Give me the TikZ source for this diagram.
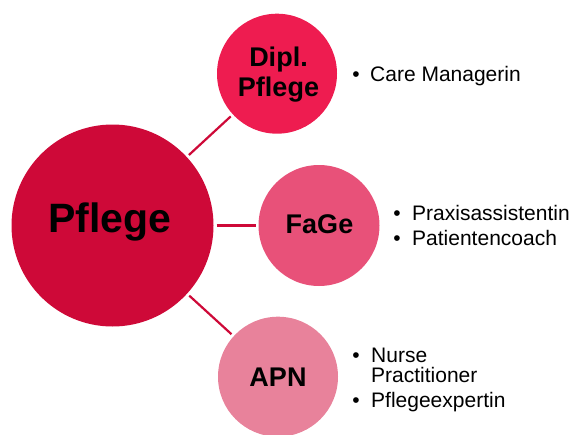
\documentclass[tikz,border=0pt]{standalone}
\usepackage{fontspec}
\setmainfont{Liberation Sans}
\begin{document}
\definecolor{pflegered}{RGB}{206,9,56}
\definecolor{diplred}{RGB}{238,28,80}
\definecolor{fagerose}{RGB}{232,81,121}
\definecolor{apnrose}{RGB}{232,130,155}
\begin{tikzpicture}[x=1pt,y=-1pt,
  bubble/.style={circle,inner sep=0pt,outer sep=3pt,draw=none},
  link/.style={draw=pflegered,line width=2.2pt},
  head/.style={anchor=base,font=\bfseries\fontsize{27}{30}\selectfont,inner sep=0pt},
  item/.style={anchor=base west,font=\fontsize{21}{24}\selectfont,inner sep=0pt},
  dot/.style={anchor=base,font=\fontsize{21}{24}\selectfont,inner sep=0pt}]
\useasboundingbox (0,0) rectangle (573,434);
\clip (0,0) rectangle (573,434);

% circles
\node[bubble,fill=pflegered,minimum size=202pt] (pfl) at (112.5,225.5) {};
\node[bubble,fill=diplred,minimum size=120pt] (dip) at (277,73.7) {};
\node[bubble,fill=fagerose,minimum size=121pt] (fag) at (319,225.5) {};
\node[bubble,fill=apnrose,minimum size=120pt] (apn) at (278,376.7) {};

% connectors
\draw[link] (pfl) -- (dip);
\draw[link] (pfl) -- (fag);
\draw[link] (pfl) -- (apn);

% circle labels
\node[head,font=\bfseries\fontsize{41}{44}\selectfont] (tpfl) at (110,232) {Pflege};
\node[head] (tdip1) at (278.5,66.7) {Dipl.};
\node[head] (tdip2) at (278.5,96.7) {Pflege};
\node[head] (tfag) at (319.5,233.3) {FaGe};
\node[head] (tapn) at (278,386) {APN};

% bullet lists
\node[dot] (b1) at (356,81) {•};
\node[item] (l1) at (370,81) {Care Managerin};

\node[dot] (b2) at (397,220) {•};
\node[item] (l2) at (412,220) {Praxisassistentin};
\node[dot] (b3) at (397,245) {•};
\node[item] (l3) at (412,245) {Patientencoach};

\node[dot] (b4) at (356,362.7) {•};
\node[item] (l4) at (371,362.7) {Nurse};
\node[item] (l5) at (371,382) {Practitioner};
\node[dot] (b5) at (356,407) {•};
\node[item] (l6) at (371,407) {Pflegeexpertin};
\end{tikzpicture}
\end{document}
